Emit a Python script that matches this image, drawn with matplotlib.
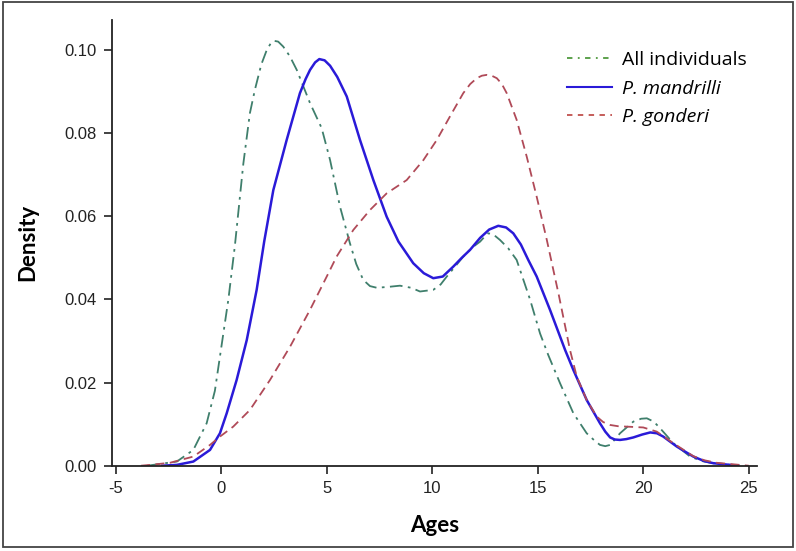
import matplotlib
matplotlib.use("Agg")
import matplotlib.pyplot as plt
from matplotlib.lines import Line2D
from matplotlib.patches import Rectangle

plt.rcParams["axes.unicode_minus"] = False

# density curves (age, density)
all_age = [-3.5, -2.1, -1.32, -0.69, -0.3, 0.02, 0.34, 0.65, 1.05, 1.36, 1.6, 1.9,
           2.16, 2.35, 2.5, 2.7, 2.94, 3.25, 3.58, 4.21, 4.76, 5.16, 5.63, 6.1, 6.4,
           6.73, 7.05, 7.37, 7.9, 8.47, 9.0, 9.42, 10.05, 10.4, 10.69, 11.1, 11.47,
           11.9, 12.27, 12.5, 12.66, 12.9, 13.21, 13.6, 14.0, 14.64, 15.11, 15.5,
           16.06, 16.69, 17.32, 17.7, 17.95, 18.2, 18.43, 18.9, 19.53, 19.9, 20.17,
           20.5, 20.8, 21.43, 22.22, 22.8, 23.32, 24.5]
all_dens = [0.0, 0.001, 0.0038, 0.0102, 0.018, 0.029, 0.040, 0.053, 0.0727, 0.0848,
            0.0905, 0.0965, 0.1000, 0.1016, 0.1022, 0.1020, 0.1008, 0.0985, 0.0952,
            0.0872, 0.0812, 0.0735, 0.0623, 0.0535, 0.0485, 0.0447, 0.0432, 0.0428,
            0.0430, 0.0433, 0.0428, 0.0419, 0.0423, 0.0436, 0.0455, 0.0480, 0.0503,
            0.0525, 0.0539, 0.0552, 0.0559, 0.0556, 0.0543, 0.0523, 0.0495, 0.0399,
            0.0318, 0.0266, 0.0198, 0.0126, 0.0078, 0.0060, 0.0050, 0.0047, 0.0050,
            0.0078, 0.0106, 0.0113, 0.0114, 0.0106, 0.0090, 0.0054, 0.0022, 0.0011,
            0.0006, 0.0]

mand_age = [-2.8, -2.1, -1.32, -0.53, -0.06, 0.26, 0.73, 1.21, 1.68, 2.04, 2.47, 3.1,
            3.73, 4.0, 4.21, 4.45, 4.65, 4.9, 5.16, 5.5, 5.95, 6.58, 7.21, 7.84, 8.4,
            9.1, 9.6, 10.05, 10.5, 11.0, 11.4, 11.79, 12.27, 12.7, 13.13, 13.5, 13.84,
            14.2, 14.55, 14.95, 15.58, 16.3, 16.69, 17.32, 17.95, 18.2, 18.43, 18.65,
            18.9, 19.2, 19.53, 19.95, 20.33, 20.65, 20.95, 21.59, 22.37, 22.9, 23.32,
            24.5]
mand_dens = [0.0, 0.0002, 0.001, 0.0038, 0.0078, 0.0126, 0.0206, 0.0302, 0.0423,
             0.054, 0.0663, 0.0783, 0.0896, 0.0930, 0.0952, 0.0970, 0.0978, 0.0975,
             0.0962, 0.0935, 0.0888, 0.0783, 0.0687, 0.0599, 0.0539, 0.0487, 0.0463,
             0.0451, 0.0455, 0.0479, 0.0500, 0.0519, 0.0548, 0.0568, 0.0577, 0.0573,
             0.0559, 0.0532, 0.0495, 0.0455, 0.0375, 0.0278, 0.023, 0.0158, 0.0102,
             0.0082, 0.0068, 0.0063, 0.0062, 0.0064, 0.0068, 0.0075, 0.0080, 0.0078,
             0.0070, 0.0046, 0.0022, 0.0011, 0.0006, 0.0]

gond_age = [-3.8, -3.37, -2.43, -1.32, -0.53, -0.06, 0.57, 1.36, 2.31, 3.26, 4.21,
            5.08, 5.47, 6.26, 7.05, 7.84, 8.79, 9.58, 10.21, 10.84, 11.47, 11.8,
            12.11, 12.35, 12.58, 12.82, 13.06, 13.3, 13.53, 14.0, 14.48, 14.95, 15.43,
            16.0, 16.53, 16.85, 17.32, 17.8, 18.1, 18.43, 18.8, 19.22, 20.0, 20.64,
            21.43, 22.37, 22.9, 23.48, 25.0]
gond_dens = [0.0, 0.0002, 0.0007, 0.0022, 0.005, 0.007, 0.0094, 0.0134, 0.0206,
             0.0286, 0.0375, 0.0463, 0.0503, 0.0567, 0.0615, 0.0655, 0.0687, 0.0735,
             0.0783, 0.084, 0.0896, 0.0918, 0.0932, 0.0938, 0.0940, 0.0938, 0.0932,
             0.0918, 0.0896, 0.0832, 0.0743, 0.0647, 0.0543, 0.041, 0.0278, 0.0214,
             0.0158, 0.0118, 0.0105, 0.0098, 0.0095, 0.0094, 0.0092, 0.0082, 0.0054,
             0.0023, 0.0013, 0.0007, 0.0]

x_ticks = [-5, 0, 5, 10, 15, 20, 25]
y_ticks = [0.00, 0.02, 0.04, 0.06, 0.08, 0.10]
labels = ["All individuals", "P. mandrilli", "P. gonderi"]

GREEN, BLUE, RED = "#3f7f6c", "#2a1ad8", "#b04a58"

fig = plt.figure(figsize=(7.96, 5.51), dpi=100)
ax = fig.add_axes([0.1407, 0.1548, 0.951 - 0.1407, 0.9637 - 0.1548])

ax.plot(all_age, all_dens, color=GREEN, lw=1.3, dashes=(7, 3, 1.5, 3),
        dash_joinstyle="round")
ax.plot(mand_age, mand_dens, color=BLUE, lw=1.8, solid_joinstyle="round")
ax.plot(gond_age, gond_dens, color=RED, lw=1.3, dashes=(5, 3),
        dash_joinstyle="round")

ax.set_xlim(-5.175, 25.39)
ax.set_ylim(0, 0.1072)
ax.set_xticks(x_ticks)
ax.set_yticks(y_ticks)
ax.set_yticklabels([f"{v:.2f}" for v in y_ticks])
for sp in ["top", "right"]:
    ax.spines[sp].set_visible(False)
for sp in ["left", "bottom"]:
    ax.spines[sp].set_linewidth(1.3)
    ax.spines[sp].set_color("#222")
ax.tick_params(length=6, width=1.2, color="#222", labelsize=12,
               labelcolor="#222", pad=5)
for t in ax.get_xticklabels() + ax.get_yticklabels():
    t.set_family("Liberation Sans")

ax.set_xlabel("Ages", family="Lato", fontweight="bold", fontsize=16, labelpad=14)
ax.set_ylabel("Density", family="Lato", fontweight="bold", fontsize=16, labelpad=19)

handles = [Line2D([], [], color="#4f9a3e", lw=1.3, dashes=(3, 3, 1, 3)),
           Line2D([], [], color="#2a1ad8", lw=1.5),
           Line2D([], [], color="#c0504d", lw=1.3, dashes=(3, 3))]
leg = ax.legend(handles, labels, loc="upper right", bbox_to_anchor=(1.012, 0.97),
                frameon=False, handlelength=2.3, handletextpad=0.55,
                labelspacing=0.55, prop={"family": "Open Sans", "size": 14})
for t in leg.get_texts()[1:]:
    t.set_fontstyle("italic")

fig.patches.append(Rectangle((3 / 796, 4 / 551), 790 / 796, 545 / 551,
                             transform=fig.transFigure, fill=False,
                             lw=1.3, edgecolor="#444"))

fig.savefig("out.png", dpi=100)
